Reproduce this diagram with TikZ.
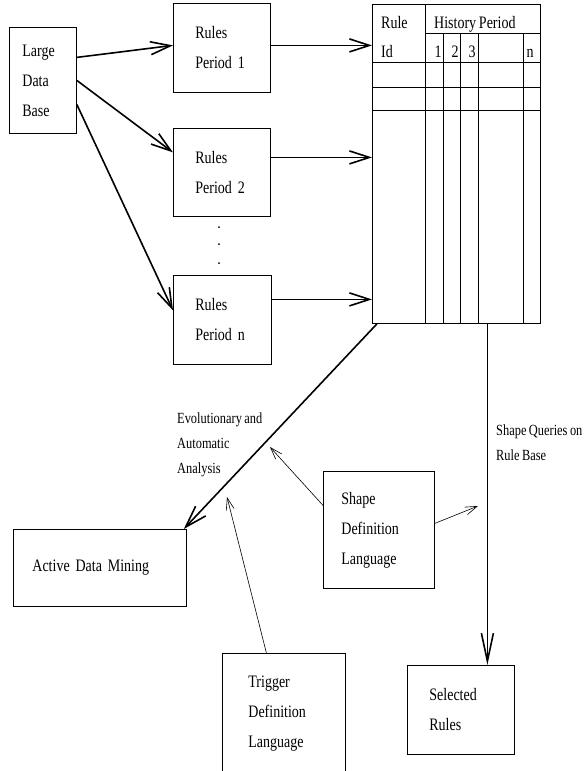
\documentclass[tikz,border=0pt]{standalone}
\usepackage{fontspec}
\setmainfont{Liberation Serif}[FakeStretch=0.8, WordSpace=0.8]
\usetikzlibrary{arrows.meta}

\begin{document}
\begin{tikzpicture}[x=1pt, y=-1pt,
    box/.style={draw, line width=0.8pt, anchor=north west, align=left, inner ysep=0pt,
        font=\fontsize{17.5}{30}\selectfont},
    thickarrow/.style={line width=1.6pt, -{Straight Barb[length=20pt,width=13pt]}},
    thinarrow/.style={line width=0.6pt, -{Straight Barb[length=12pt,width=8pt]}},
    note/.style={anchor=base west, align=left, inner sep=0pt,
        font=\fontsize{15.5}{25}\selectfont},
    cell/.style={inner sep=0pt, font=\fontsize{17.5}{20}\selectfont}]
    \useasboundingbox (0,0) rectangle (584,771);

    % ノードを描画
    \node[box, inner xsep=13pt, text width=41pt, minimum height=106pt] (ldb) at (9,27) {Large\\Data\\Base};
    \node[box, inner xsep=22pt, text width=53pt, minimum height=89pt] (rp1) at (173,3) {Rules\\Period 1};
    \node[box, inner xsep=22pt, text width=53pt, minimum height=88pt] (rp2) at (173,128) {Rules\\Period 2};
    \node[box, inner xsep=22pt, text width=54pt, minimum height=89pt] (rpn) at (173,275) {Rules\\Period n};
    \node[box, inner xsep=19pt, text width=135pt, minimum height=77pt] (adm) at (13,529) {Active Data Mining};
    \node[box, inner xsep=18pt, text width=75pt, minimum height=117pt] (sdl) at (323,471) {Shape\\Definition\\Language};
    \node[box, inner xsep=26pt, text width=71pt, minimum height=120pt] (tdl) at (222,653) {Trigger\\Definition\\Language};
    \node[box, inner xsep=22pt, text width=63pt, minimum height=89pt] (sr) at (407,665) {Selected\\Rules};

    % 表を描画
    \node[draw, line width=0.8pt, anchor=north west, inner sep=0pt,
        minimum width=168pt, minimum height=319pt] (tab) at (372,4) {};
    \draw[line width=0.6pt] (425,4) -- (425,323);
    \foreach \x in {443,460,478,523}
        \draw[line width=0.6pt] (\x,33) -- (\x,323);
    \draw[line width=0.6pt] (425,33) -- (540,33);
    \foreach \y in {62,87,110}
        \draw[line width=0.6pt] (372,\y) -- (540,\y);
    \node[cell, anchor=base west] (rule) at (381,28) {Rule};
    \node[cell, anchor=base west] (hist) at (434,28) {History Period};
    \node[cell, anchor=base west] (id) at (381,57) {Id};
    \node[cell, anchor=base] (c1) at (438,57) {1};
    \node[cell, anchor=base] (c2) at (455,57) {2};
    \node[cell, anchor=base] (c3) at (472,57) {3};
    \node[cell, anchor=base] (cn) at (530,57) {n};

    % 点
    \foreach \y in {227,244,263}
        \fill (219,\y) circle (1pt);

    % ラベル
    \node[note] (evo) at (177,473) {Evolutionary and\\Automatic\\Analysis};
    \node[note] (sq) at (496,460) {Shape Queries on\\Rule Base};

    % エッジを描画
    \draw[thickarrow] ([yshift=23pt]ldb.east) -- ([yshift=2.5pt]rp1.west);
    \draw[thickarrow] (ldb.east) -- ([yshift=20pt]rp2.west);
    \draw[thickarrow] ([yshift=-24pt]ldb.east) -- ([yshift=9.5pt]rpn.west);
    \draw[thickarrow] ([yshift=2.5pt]rp1.east) -- ([yshift=2.5pt]rp1.east -| tab.west);
    \draw[thickarrow] ([yshift=15pt]rp2.east) -- ([yshift=15pt]rp2.east -| tab.west);
    \draw[thickarrow] ([yshift=20.5pt]rpn.east) -- ([yshift=20.5pt]rpn.east -| tab.west);
    \draw[thickarrow, -{Straight Barb[length=22pt,width=14pt]}] ([xshift=5pt]tab.south west) -- ([xshift=-3pt]adm.north east);
    \coordinate (q) at ([xshift=31pt]tab.south);
    \draw[thickarrow, -{Straight Barb[length=28pt,width=12pt]}] (q) -- (q |- sr.north);

    \coordinate (sdlend) at (270,447);
    \coordinate (sqend) at (478,506);
    \coordinate (tdlend) at (227,497);
    \draw[thinarrow] ([yshift=24.5pt]sdl.west) -- (sdlend);
    \draw[thinarrow] ([yshift=6.5pt]sdl.east) -- (sqend);
    \draw[thinarrow] ([xshift=-17.5pt]tdl.north) -- (tdlend);
\end{tikzpicture}
\end{document}
